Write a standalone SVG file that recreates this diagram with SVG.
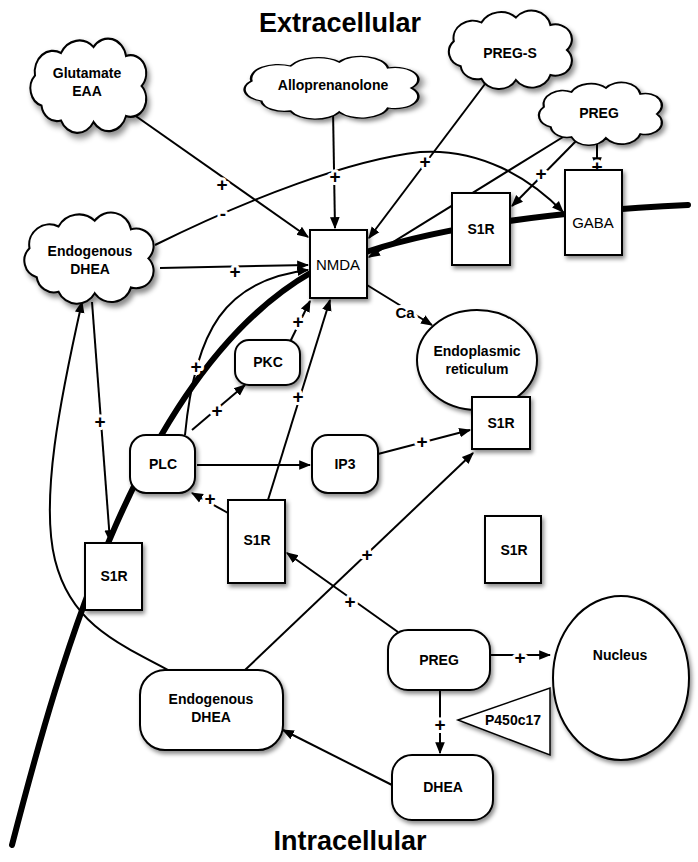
<svg xmlns="http://www.w3.org/2000/svg" xmlns:xlink="http://www.w3.org/1999/xlink" width="698" height="862" viewBox="0 0 698 862">
<style>
text{font-family:"Liberation Sans",Arial,sans-serif;font-weight:bold;font-size:14px;text-anchor:middle;fill:#000}
.n{fill:#fff;stroke:#000;stroke-width:2;filter:url(#sh)}
.c{fill:none;stroke:#000;stroke-width:2;marker-end:url(#ar)}
.p{font-size:19px;stroke:#fff;stroke-width:6px;paint-order:stroke;stroke-linejoin:round}
.title{font-size:27px}
.thin{font-weight:normal;font-size:15px}
</style>
<defs>
<filter id="sh" x="-20%" y="-20%" width="150%" height="150%"><feDropShadow dx="2" dy="3" stdDeviation="2" flood-opacity="0.45"/></filter>
<marker id="ar" viewBox="0 0 10 10" refX="9" refY="5" markerWidth="12" markerHeight="12" orient="auto" markerUnits="userSpaceOnUse"><path d="M0,1 L10,5 L0,9 z"/></marker>
<path id="cl" d="M15,45 A12,12 0 0 1 10,25 A14,14 0 0 1 30,10 A16,16 0 0 1 55,6 A14,14 0 0 1 80,12 A12,12 0 0 1 92,32 A12,12 0 0 1 80,52 A14,14 0 0 1 55,56 A14,14 0 0 1 30,55 A12,12 0 0 1 15,45 Z"/>
</defs>
<rect width="698" height="862" fill="#fff"/>
<text x="340" y="32" class="title">Extracellular</text>
<text x="350" y="850" class="title">Intracellular</text>
<g id="membrane">
<path d="M12,845 C60,660 140,370 312,272" fill="none" stroke="#000" stroke-width="6" stroke-linecap="round"/>
<path d="M366,252 Q480,215 688,205" fill="none" stroke="#000" stroke-width="6" stroke-linecap="round"/>
</g>
<g id="connectors">
<path class="c" d="M130,112 L308,237"/>
<path class="c" d="M333,110 L335,228"/>
<path class="c" d="M488,80 L369,238"/>
<path class="c" d="M563,137 L369,257"/>
<path class="c" d="M577,140 L512,206"/>
<path class="c" d="M597,140 L597,168"/>
<path class="c" d="M155,245 C250,198 350,160 420,152 C480,148 530,178 563,212"/>
<path class="c" d="M160,268 L308,265"/>
<path class="c" d="M185,435 C195,330 225,280 308,270"/>
<path class="c" d="M290,342 L310,301"/>
<path class="c" d="M268,500 L330,300"/>
<path class="c" d="M192,430 L245,385"/>
<path class="c" d="M197,465 L310,465"/>
<path class="c" d="M378,454 L470,430"/>
<path class="c" d="M228,513 L192,493"/>
<path class="c" d="M367,285 L432,325"/>
<path class="c" d="M92,302 L110,541"/>
<path class="c" d="M170,671 C110,640 70,620 55,560 C40,500 60,400 82,302"/>
<path class="c" d="M245,670 L473,453"/>
<path class="c" d="M398,632 L287,553"/>
<path class="c" d="M490,655 L550,655"/>
<path class="c" d="M440,690 L440,753"/>
<path class="c" d="M392,785 L283,730"/>
<text x="222" y="191" class="p">+</text>
<text x="335" y="183" class="p">+</text>
<text x="425" y="168" class="p">+</text>
<text x="457" y="204" class="p">+</text>
<text x="541" y="180" class="p">+</text>
<text x="597" y="173" class="p">+</text>
<text x="223" y="220" class="p">-</text>
<text x="235" y="278" class="p">+</text>
<text x="196" y="373" class="p">+</text>
<text x="298" y="328" class="p">+</text>
<text x="298" y="403" class="p">+</text>
<text x="217" y="417" class="p">+</text>
<text x="422" y="448" class="p">+</text>
<text x="210" y="505" class="p">+</text>
<text x="405" y="318" class="p" style="font-size:15px">Ca</text>
<text x="100" y="428" class="p">+</text>
<text x="367" y="561" class="p">+</text>
<text x="350" y="608" class="p">+</text>
<text x="520" y="664" class="p">+</text>
<text x="440" y="731" class="p">+</text>
</g>
<g id="glutamate"><use href="#cl" class="n" transform="translate(22,38) scale(1.3,1.5)" style="stroke-width:1.5"/><text x="87" y="78">Glutamate</text><text x="87" y="96">EAA</text></g>
<g id="allopregnanolone"><use href="#cl" class="n" transform="translate(232,56) scale(1.95,1.0)" style="stroke-width:1.3"/><text x="333" y="90">Alloprenanolone</text></g>
<g id="pregs"><use href="#cl" class="n" transform="translate(440,10) scale(1.38,1.25)" style="stroke-width:1.5"/><text x="510" y="58">PREG-S</text></g>
<g id="preg-ext"><use href="#cl" class="n" transform="translate(530,82) scale(1.38,1.0)" style="stroke-width:1.6"/><text x="599" y="118">PREG</text></g>
<g id="dhea-ext"><use href="#cl" class="n" transform="translate(15,212) scale(1.45,1.45)" style="stroke-width:1.4"/><text x="90" y="256">Endogenous</text><text x="90" y="274">DHEA</text></g>
<g id="nmda"><rect class="n" x="310" y="230" width="57" height="68"/><text x="338" y="270" class="thin">NMDA</text></g>
<g id="s1r-top"><rect class="n" x="452" y="193" width="58" height="72"/><text x="481" y="234">S1R</text></g>
<g id="gaba"><rect class="n" x="565" y="170" width="57" height="85"/><text x="593" y="228" class="thin">GABA</text></g>
<g id="er"><ellipse class="n" cx="477" cy="360" rx="60" ry="50"/><text x="477" y="356">Endoplasmic</text><text x="477" y="374">reticulum</text></g>
<g id="s1r-er"><rect class="n" x="472" y="397" width="58" height="52"/><text x="501" y="428">S1R</text></g>
<g id="pkc"><rect class="n" x="235" y="340" width="65" height="45" rx="14"/><text x="268" y="367">PKC</text></g>
<g id="plc"><rect class="n" x="130" y="435" width="65" height="58" rx="16"/><text x="163" y="469">PLC</text></g>
<g id="ip3"><rect class="n" x="312" y="435" width="66" height="58" rx="16"/><text x="345" y="469">IP3</text></g>
<g id="s1r-mid"><rect class="n" x="228" y="500" width="57" height="83"/><text x="257" y="545">S1R</text></g>
<g id="s1r-left"><rect class="n" x="85" y="543" width="57" height="67"/><text x="114" y="581">S1R</text></g>
<g id="s1r-right"><rect class="n" x="485" y="516" width="56" height="67"/><text x="514" y="555">S1R</text></g>
<g id="nucleus"><ellipse class="n" cx="621" cy="678" rx="68" ry="82"/><text x="620" y="660">Nucleus</text></g>
<g id="preg-int"><rect class="n" x="388" y="630" width="102" height="60" rx="20"/><text x="439" y="665">PREG</text></g>
<g id="p450"><polygon class="n" points="458,720 550,688 550,755" style="stroke-width:1.5"/><text x="513" y="725">P450c17</text></g>
<g id="dhea-int-endog"><rect class="n" x="140" y="670" width="143" height="80" rx="25"/><text x="211" y="704">Endogenous</text><text x="211" y="722">DHEA</text></g>
<g id="dhea"><rect class="n" x="392" y="755" width="101" height="65" rx="20"/><text x="443" y="792">DHEA</text></g>
</svg>
